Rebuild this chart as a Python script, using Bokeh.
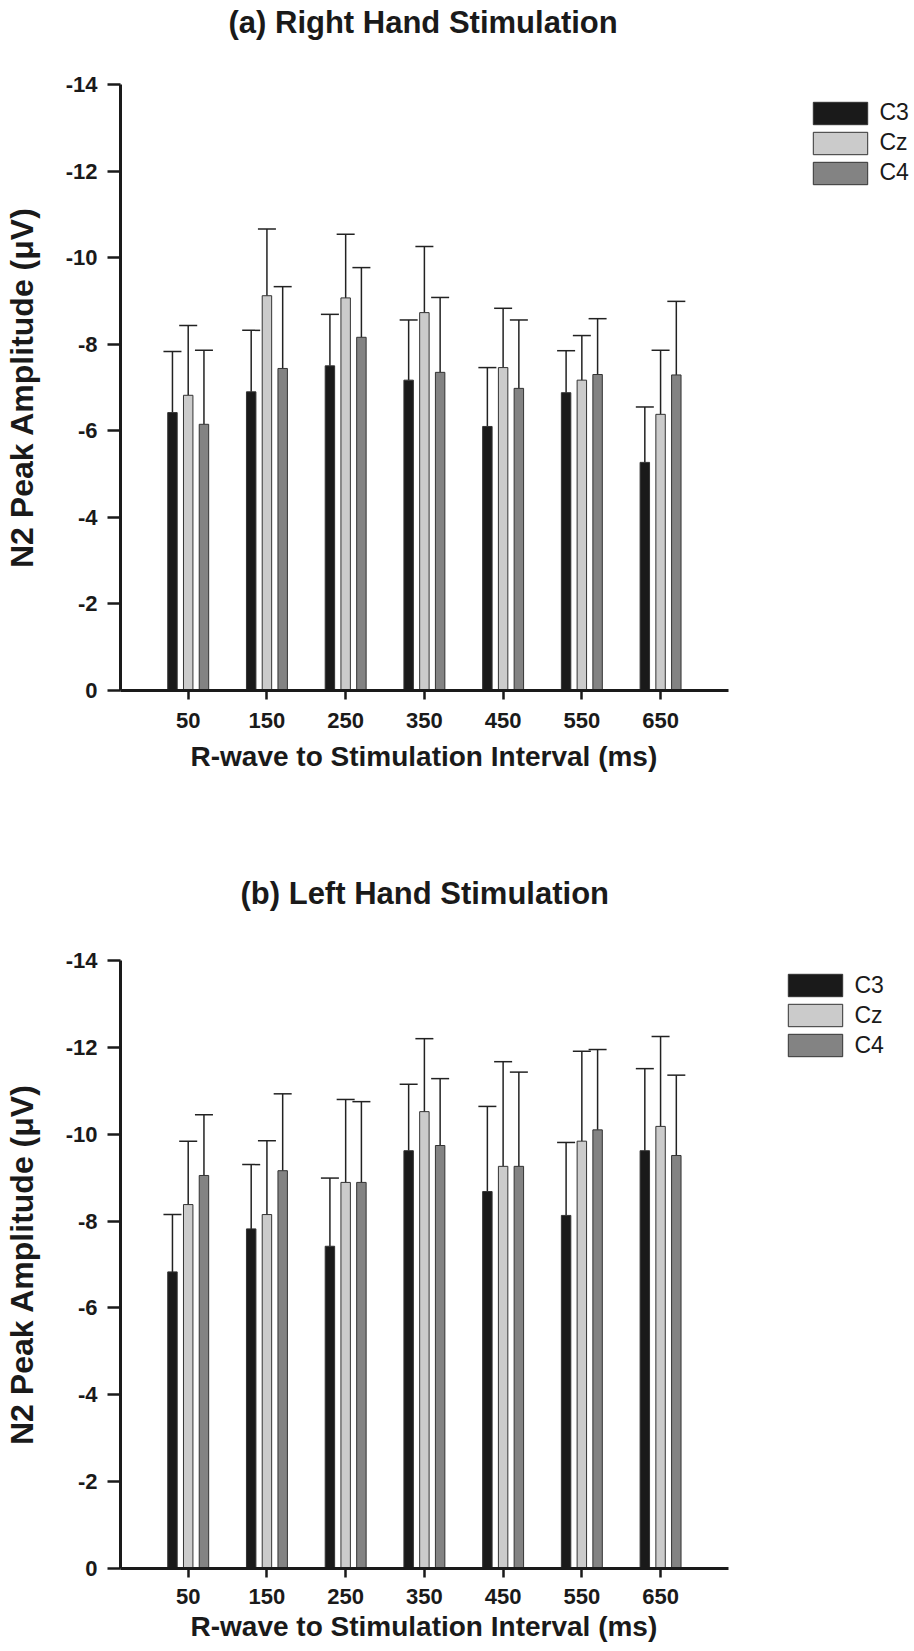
from bokeh.plotting import figure
from bokeh.models import (Range1d, ColumnDataSource, FixedTicker, Whisker,
                          TeeHead, Legend, LegendItem, Title, PrintfTickFormatter)
from bokeh.transform import dodge
from bokeh.layouts import column
from bokeh.embed import file_html
from bokeh.resources import INLINE

# ---------------- data ----------------
intervals = ["50", "150", "250", "350", "450", "550", "650"]
electrodes = ["C3", "Cz", "C4"]

# (a) Right hand stimulation: mean N2 amplitude and end of the error bar (uV)
right_C3 = [-6.42, -6.90, -7.50, -7.17, -6.10, -6.88, -5.27]
right_C3_err = [-7.83, -8.32, -8.69, -8.56, -7.46, -7.85, -6.55]
right_Cz = [-6.82, -9.12, -9.07, -8.73, -7.46, -7.17, -6.38]
right_Cz_err = [-8.43, -10.66, -10.54, -10.26, -8.83, -8.20, -7.86]
right_C4 = [-6.15, -7.44, -8.16, -7.35, -6.98, -7.30, -7.29]
right_C4_err = [-7.86, -9.33, -9.77, -9.08, -8.56, -8.59, -8.99]

# (b) Left hand stimulation
left_C3 = [-6.83, -7.82, -7.42, -9.62, -8.68, -8.13, -9.62]
left_C3_err = [-8.15, -9.30, -8.99, -11.15, -10.64, -9.81, -11.51]
left_Cz = [-8.38, -8.15, -8.89, -10.52, -9.26, -9.84, -10.18]
left_Cz_err = [-9.84, -9.85, -10.80, -12.20, -11.67, -11.91, -12.25]
left_C4 = [-9.05, -9.16, -8.89, -9.74, -9.26, -10.10, -9.51]
left_C4_err = [-10.45, -10.93, -10.75, -11.28, -11.43, -11.95, -11.36]

y_ticks = [0, -2, -4, -6, -8, -10, -12, -14]
x_label = "R-wave to Stimulation Interval (ms)"
y_label = "N2 Peak Amplitude (\u03bcV)"

# ---------------- styling ----------------
colors = {"C3": "#1a1a1a", "Cz": "#cbcbcb", "C4": "#838383"}
offsets = {"C3": -0.2, "Cz": 0.0, "C4": 0.2}
TXT = "#1a1a1a"
FONT = "Liberation Sans"

positions = list(range(len(intervals)))          # category slots 0..6
X_START, X_AXIS_END, X_END = -0.86, 6.864, 9.2    # axis stops at 6.864, legend lives right of it


def make_panel(title, title_offset, data, height, top, bottom, spacer, tick_standoff,
               xlabel_standoff, legend_loc):
    src = ColumnDataSource(dict(pos=positions, interval=intervals, **data))
    p = figure(width=912, height=height,
               x_range=Range1d(X_START, X_END),
               y_range=Range1d(0, -14),
               min_border_left=120, min_border_right=0,
               min_border_top=top, min_border_bottom=bottom,
               output_backend="svg", toolbar_location=None)
    p.outline_line_color = None
    p.xgrid.grid_line_color = None
    p.ygrid.grid_line_color = None

    items = []
    for e in electrodes:
        xs = dodge("pos", offsets[e])
        r = p.vbar(x=xs, top=e, bottom=0, width=0.12, source=src,
                   fill_color=colors[e], line_color="#333333", line_width=1)
        w = Whisker(base=xs, lower=e, upper=e + "_err", source=src,
                    dimension="height", line_color="#222222", line_width=1.5,
                    upper_head=TeeHead(size=18, line_color="#222222", line_width=1.5),
                    lower_head=None)
        p.add_layout(w)
        items.append(LegendItem(label=e, renderers=[r]))

    legend = Legend(items=items, location=legend_loc,
                    glyph_width=68, glyph_height=28, label_height=28,
                    spacing=2, padding=0, margin=0, label_standoff=6,
                    border_line_color=None, background_fill_alpha=0,
                    label_text_font=FONT, label_text_font_size="23px",
                    label_text_color=TXT)
    p.add_layout(legend, "center")

    # spacer between the frame and the title, then the title itself
    p.add_layout(Title(text=" ", text_font_size="2px", standoff=spacer), "above")
    p.add_layout(Title(text=title, align="left", offset=title_offset, text_font=FONT,
                       text_font_size="31px", text_font_style="bold",
                       text_color=TXT, standoff=0), "above")

    for ax in (p.xaxis[0], p.yaxis[0]):
        ax.axis_line_width = 3
        ax.axis_line_color = TXT
        ax.major_tick_line_width = 2.5
        ax.major_tick_line_color = TXT
        ax.major_tick_in = 0
        ax.minor_tick_line_color = None
        ax.major_label_text_font = FONT
        ax.major_label_text_font_size = "22px"
        ax.major_label_text_font_style = "bold"
        ax.major_label_text_color = TXT
        ax.axis_label_text_font = FONT
        ax.axis_label_text_font_style = "bold"
        ax.axis_label_text_color = TXT

    xa = p.xaxis[0]
    xa.bounds = (X_START, X_AXIS_END)
    xa.ticker = FixedTicker(ticks=positions)
    xa.major_label_overrides = {i: lab for i, lab in zip(positions, intervals)}
    xa.major_tick_out = 9
    xa.major_label_standoff = tick_standoff
    # x-axis title, centred under the drawn part of the axis
    p.add_layout(Title(text=x_label, align="left", offset=70, text_font=FONT,
                       text_font_size="28px", text_font_style="bold",
                       text_color=TXT, standoff=xlabel_standoff), "below")

    ya = p.yaxis[0]
    ya.ticker = FixedTicker(ticks=y_ticks)
    ya.formatter = PrintfTickFormatter(format="%d")
    ya.major_tick_out = 13
    ya.major_label_standoff = 10
    ya.axis_label = y_label
    ya.axis_label_text_font_size = "32px"
    ya.axis_label_standoff = 23
    return p


right = {"C3": right_C3, "C3_err": right_C3_err, "Cz": right_Cz, "Cz_err": right_Cz_err,
         "C4": right_C4, "C4_err": right_C4_err}
left = {"C3": left_C3, "C3_err": left_C3_err, "Cz": left_Cz, "Cz_err": left_Cz_err,
        "C4": left_C4, "C4_err": left_C4_err}

# figure 1: frame 84..690 ; figure 2 starts at 860, frame 960..1568
p1 = make_panel("(a) Right Hand Stimulation", 108, right, height=860, top=84, bottom=170,
                spacer=41, tick_standoff=13, xlabel_standoff=16,
                legend_loc=(685.5, 503.5))
p2 = make_panel("(b) Left Hand Stimulation", 120, left, height=790, top=100, bottom=82,
                spacer=46, tick_standoff=11, xlabel_standoff=4,
                legend_loc=(660.5, 508.7))

layout = column(p1, p2, spacing=0)
open("out.html", "w").write(file_html(layout, INLINE))
